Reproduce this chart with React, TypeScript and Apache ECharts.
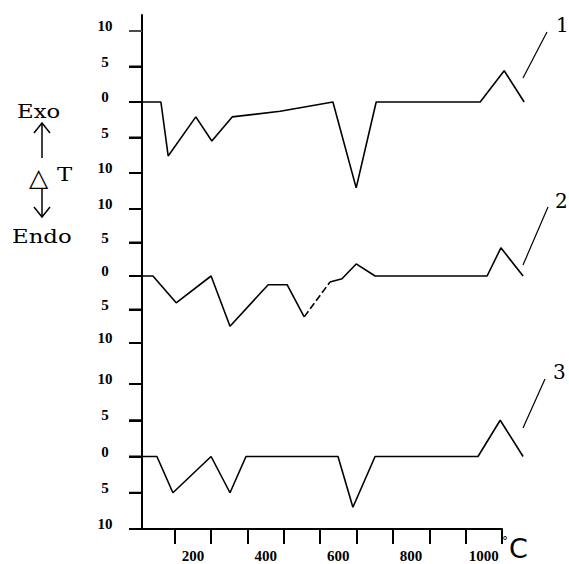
import { useEffect, useRef } from "react";
import * as echarts from "echarts";

// Temperature axis (°C)
const xMin = 60;
const xMax = 1050;
const xPlotMax = 1120; // the curves run a little past the end of the drawn axis
const xTickValues = [150, 250, 350, 450, 550, 650, 750, 850, 950, 1050];
const xLabelValues = [200, 400, 600, 800, 1000];
// ΔT axis of each panel (labels shown as absolute values)
const yMin = -10;
const yMax = 10;
const yInterval = 5;
const yTickValues = [-10, -5, 0, 5, 10];

// Curve 1
const curve1T = [60, 112, 132, 208, 252, 308, 440, 495, 585, 649, 704, 990, 1056, 1111];
const curve1V = [0, 0, -7.6, -2.1, -5.5, -2.1, -1.3, -0.8, 0, -12.1, 0, 0, 4.4, 0];
// Curve 2 (the segment between indices 7 and 8 is broken / dashed in the print)
const curve2T = [60, 90, 154, 250, 302, 407, 459, 506, 577, 610, 649, 701, 1009, 1047, 1108];
const curve2V = [0, 0, -4.0, 0, -7.5, -1.3, -1.3, -6.1, -0.9, -0.4, 1.8, 0, 0, 4.2, 0];
const curve2DashFrom = 7;
const curve2DashTo = 8;
// Curve 3
const curve3T = [60, 101, 145, 250, 302, 346, 599, 640, 701, 984, 1045, 1108];
const curve3V = [0, 0, -5, 0, -5, 0, 0, -7, 0, 0, 5, 0];

const curveNames = ["1", "2", "3"];

const pairs = (t: number[], v: number[]) => t.map((x, i) => [x, v[i]]);

export default function App() {
  const ref = useRef<HTMLDivElement>(null);

  useEffect(() => {
    if (!ref.current) return;
    const chart = echarts.init(ref.current, null, { renderer: "svg" });

    const panels = [
      { top: 31, height: 142 },
      { top: 209, height: 134 },
      { top: 384, height: 145 },
    ];
    const gridLeft = 142;
    const axisWidth = 360;
    const pxPerDeg = axisWidth / (xMax - xMin);
    const plotWidth = Math.round((xPlotMax - xMin) * pxPerDeg);

    const labelFont = {
      fontFamily: "Liberation Serif",
      fontWeight: "bold" as const,
      fontSize: 15,
      color: "#000",
    };

    const grids: any[] = panels.map((p) => ({
      left: gridLeft,
      width: plotWidth,
      top: p.top,
      height: p.height,
    }));
    // frame grid: continuous vertical axis line + temperature axis at the bottom
    grids.push({ left: gridLeft, width: axisWidth, top: 15, height: 514 });

    const xAxes: any[] = panels.map((_, i) => ({
      gridIndex: i,
      type: "value",
      min: xMin,
      max: xMin + plotWidth / pxPerDeg,
      show: false,
      splitLine: { show: false },
      axisLine: { show: false, onZero: false },
      axisTick: { show: false },
      axisLabel: { show: false },
    }));
    xAxes.push({
      gridIndex: 3,
      type: "value",
      min: xMin,
      max: xMax,
      splitLine: { show: false },
      axisLine: { show: true, onZero: false, lineStyle: { color: "#000", width: 2 } },
      axisTick: {
        show: true,
        customValues: xTickValues,
        length: 15,
        lineStyle: { color: "#000", width: 2 },
      },
      axisLabel: {
        show: true,
        customValues: xLabelValues,
        formatter: (v: number) => String(v),
        margin: 19,
        ...labelFont,
      },
    });

    const yAxes: any[] = panels.map((_, i) => ({
      gridIndex: i,
      type: "value",
      min: yMin,
      max: yMax,
      interval: yInterval,
      splitLine: { show: false },
      axisLine: { show: false, onZero: false },
      axisTick: { show: true, length: 13, lineStyle: { color: "#000", width: 2 } },
      axisLabel: {
        show: true,
        formatter: (v: number) => String(Math.abs(v)),
        align: "center",
        verticalAlign: "bottom",
        lineHeight: 10,
        margin: 37,
        ...labelFont,
      },
    }));
    yAxes.push({
      gridIndex: 3,
      type: "value",
      min: 0,
      max: 1,
      splitLine: { show: false },
      axisLine: { show: true, onZero: false, lineStyle: { color: "#000", width: 2 } },
      axisTick: { show: false },
      axisLabel: { show: false },
    });

    const lineBase = {
      type: "line",
      symbol: "none",
      clip: false,
      silent: true,
      lineStyle: { color: "#000", width: 1.6 },
    };

    const c2 = pairs(curve2T, curve2V);
    const series: any[] = [
      { ...lineBase, name: curveNames[0], xAxisIndex: 0, yAxisIndex: 0, data: pairs(curve1T, curve1V) },
      { ...lineBase, name: curveNames[1], xAxisIndex: 1, yAxisIndex: 1, data: c2.slice(0, curve2DashFrom + 1) },
      {
        ...lineBase,
        name: curveNames[1],
        xAxisIndex: 1,
        yAxisIndex: 1,
        data: c2.slice(curve2DashFrom, curve2DashTo + 1),
        lineStyle: { color: "#000", width: 1.6, type: [7, 3] },
      },
      { ...lineBase, name: curveNames[1], xAxisIndex: 1, yAxisIndex: 1, data: c2.slice(curve2DashTo) },
      { ...lineBase, name: curveNames[2], xAxisIndex: 2, yAxisIndex: 2, data: pairs(curve3T, curve3V) },
    ];

    chart.setOption({
      animation: false,
      backgroundColor: "#fff",
      grid: grids,
      xAxis: xAxes,
      yAxis: yAxes,
      series,
    });

    // ΔT tick marks, positioned through each panel's y scale
    const tickLen = 13;
    const tickGraphics: any[] = [];
    panels.forEach((p, i) => {
      yTickValues.forEach((v) => {
        let py = Number(chart.convertToPixel({ yAxisIndex: i } as any, v));
        if (!isFinite(py)) py = p.top + (p.height * (yMax - v)) / (yMax - yMin);
        const faint = i === 0 && v === yMax;
        tickGraphics.push({
          type: "rect",
          z: 1000,
          shape: { x: gridLeft - tickLen, y: py - (faint ? 0.5 : 1), width: tickLen, height: faint ? 1 : 2 },
          style: { fill: faint ? "#999" : "#000" },
        });
      });
    });

    const serifBig = { fontFamily: "DejaVu Serif", fontSize: 19, fill: "#000" };
    const thin = { stroke: "#000", lineWidth: 1.5 };
    const leaderStyle = { stroke: "#000", lineWidth: 1.2 };

    const graphic: any[] = [
      ...tickGraphics,

      { type: "text", x: 17, y: 112, scaleX: 1.2, style: { ...serifBig, text: "Exo", verticalAlign: "middle" } },
      { type: "line", shape: { x1: 42, y1: 123, x2: 42, y2: 158 }, style: thin },
      { type: "polyline", shape: { points: [[34, 133], [42, 123], [50, 133]] }, style: { ...thin, fill: "none" } },
      { type: "text", x: 29, y: 177, style: { fontFamily: "DejaVu Sans", fontSize: 25, fill: "#000", text: "△", verticalAlign: "middle" } },
      { type: "text", x: 57, y: 175, scaleX: 1.2, style: { ...serifBig, text: "T", verticalAlign: "middle" } },
      { type: "line", shape: { x1: 42, y1: 188, x2: 42, y2: 217 }, style: thin },
      { type: "polyline", shape: { points: [[34, 207], [42, 217], [50, 207]] }, style: { ...thin, fill: "none" } },
      { type: "text", x: 12, y: 237, scaleX: 1.2, style: { ...serifBig, text: "Endo", verticalAlign: "middle" } },

      { type: "text", x: 556, y: 25, style: { ...serifBig, fontSize: 20, text: curveNames[0], verticalAlign: "middle" } },
      { type: "line", shape: { x1: 547, y1: 32, x2: 523, y2: 78 }, style: leaderStyle },
      { type: "text", x: 555, y: 201, style: { ...serifBig, fontSize: 20, text: curveNames[1], verticalAlign: "middle" } },
      { type: "line", shape: { x1: 548, y1: 207, x2: 523, y2: 265 }, style: leaderStyle },
      { type: "text", x: 553, y: 372, style: { ...serifBig, fontSize: 20, text: curveNames[2], verticalAlign: "middle" } },
      { type: "line", shape: { x1: 545, y1: 379, x2: 523, y2: 428 }, style: leaderStyle },

      { type: "text", x: 502, y: 541, style: { fontFamily: "DejaVu Sans", fontSize: 12, fill: "#000", text: "°", verticalAlign: "middle" } },
      { type: "text", x: 509, y: 548, style: { fontFamily: "DejaVu Sans", fontSize: 27, fill: "#000", text: "C", verticalAlign: "middle" } },
    ];

    chart.setOption({ graphic });

    return () => chart.dispose();
  }, []);

  return (
    <div
      ref={ref}
      style={{ position: "fixed", left: 0, top: 0, width: 569, height: 564, background: "#fff" }}
    />
  );
}
